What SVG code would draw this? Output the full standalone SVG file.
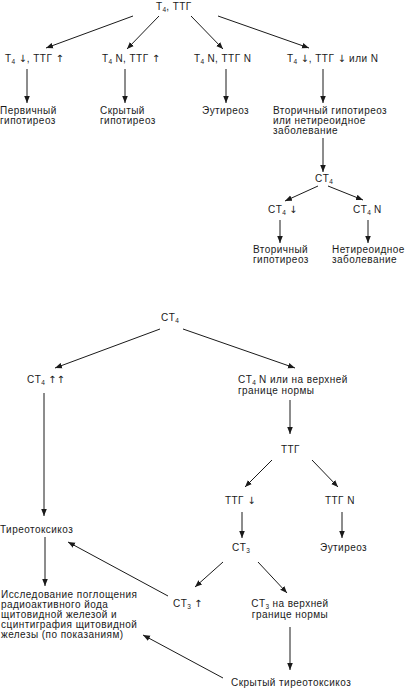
<svg xmlns="http://www.w3.org/2000/svg" width="406" height="688" viewBox="0 0 406 688">
<defs>
<marker id="ah" viewBox="0 0 10 10" refX="10" refY="5" markerWidth="7" markerHeight="7" markerUnits="userSpaceOnUse" orient="auto">
<path d="M0,1 L10,5 L0,9 Z" fill="#1a1a1a"/>
</marker>
<style>
text{font-family:"Liberation Sans",Arial,sans-serif;font-size:10px;letter-spacing:0.45px;fill:#1a1a1a}
.s{font-size:6.5px;letter-spacing:0}
.ar{font-family:"DejaVu Sans",sans-serif;font-size:10px;letter-spacing:0}
.m{text-anchor:middle}
#connectors line{stroke:#1a1a1a;stroke-width:1;marker-end:url(#ah)}
</style>
</defs>
<rect width="406" height="688" fill="#fff"/>
<g id="connectors">
<line x1="133" y1="16" x2="46" y2="48"/>
<line x1="159" y1="16" x2="127" y2="49"/>
<line x1="191" y1="16" x2="223" y2="49"/>
<line x1="218" y1="16" x2="309" y2="48"/>
<line x1="27" y1="69" x2="27" y2="103"/>
<line x1="125" y1="69" x2="125" y2="103"/>
<line x1="226" y1="69" x2="226" y2="103"/>
<line x1="323" y1="69" x2="323" y2="103"/>
<line x1="323" y1="138" x2="323" y2="172"/>
<line x1="318" y1="186" x2="285" y2="201"/>
<line x1="328" y1="186" x2="363" y2="200"/>
<line x1="280" y1="220" x2="280" y2="243"/>
<line x1="368" y1="220" x2="368" y2="243"/>
<line x1="160" y1="329" x2="55" y2="368"/>
<line x1="183" y1="329" x2="295" y2="368"/>
<line x1="44" y1="393" x2="44" y2="516"/>
<line x1="290" y1="400" x2="290" y2="434"/>
<line x1="272" y1="460" x2="245" y2="487"/>
<line x1="312" y1="460" x2="338" y2="487"/>
<line x1="242" y1="512" x2="242" y2="538"/>
<line x1="342" y1="512" x2="342" y2="538"/>
<line x1="45" y1="537" x2="45" y2="586"/>
<line x1="223" y1="562" x2="195" y2="587"/>
<line x1="258" y1="562" x2="287" y2="593"/>
<line x1="168" y1="596" x2="68" y2="542"/>
<line x1="290" y1="627" x2="290" y2="670"/>
<line x1="223" y1="678" x2="143" y2="635"/>
</g>
<g id="n-root"><text x="156" y="10">T<tspan class="s" dy="1.5">4</tspan><tspan dy="-1.5">, ТТГ</tspan></text></g>
<g id="n-a1"><text x="5" y="62">T<tspan class="s" dy="1.5">4</tspan><tspan dy="-1.5"> </tspan><tspan class="ar">↓</tspan>, ТТГ <tspan class="ar">↑</tspan></text></g>
<g id="n-a2"><text x="102" y="62">T<tspan class="s" dy="1.5">4</tspan><tspan dy="-1.5"> N, ТТГ </tspan><tspan class="ar">↑</tspan></text></g>
<g id="n-a3"><text x="194" y="62">T<tspan class="s" dy="1.5">4</tspan><tspan dy="-1.5"> N, ТТГ N</tspan></text></g>
<g id="n-a4"><text x="287" y="62">T<tspan class="s" dy="1.5">4</tspan><tspan dy="-1.5"> </tspan><tspan class="ar">↓</tspan>, ТТГ <tspan class="ar">↓</tspan> или N</text></g>
<g id="n-b1"><text x="0" y="114">Первичный</text><text x="0" y="124">гипотиреоз</text></g>
<g id="n-b2"><text x="100" y="114">Скрытый</text><text x="100" y="124">гипотиреоз</text></g>
<g id="n-b3"><text x="202" y="114">Эутиреоз</text></g>
<g id="n-b4"><text x="273" y="114">Вторичный гипотиреоз</text><text x="273" y="124">или нетиреоидное</text><text x="273" y="134">заболевание</text></g>
<g id="n-c"><text x="315" y="182">CT<tspan class="s" dy="1.5">4</tspan></text></g>
<g id="n-c1"><text x="268" y="213">CT<tspan class="s" dy="1.5">4</tspan><tspan dy="-1.5"> </tspan><tspan class="ar">↓</tspan></text></g>
<g id="n-c2"><text x="353" y="213">CT<tspan class="s" dy="1.5">4</tspan><tspan dy="-1.5"> N</tspan></text></g>
<g id="n-d1"><text x="253" y="253">Вторичный</text><text x="253" y="263">гипотиреоз</text></g>
<g id="n-d2"><text x="332" y="253">Нетиреоидное</text><text x="332" y="263">заболевание</text></g>
<g id="n-e"><text x="161" y="321">CT<tspan class="s" dy="1.5">4</tspan></text></g>
<g id="n-e1"><text x="27" y="383">CT<tspan class="s" dy="1.5">4</tspan><tspan dy="-1.5"> </tspan><tspan class="ar">↑↑</tspan></text></g>
<g id="n-e2"><text x="238" y="383">CT<tspan class="s" dy="1.5">4</tspan><tspan dy="-1.5"> N или на верхней</tspan></text><text x="238" y="394">границе нормы</text></g>
<g id="n-f"><text x="281" y="453">ТТГ</text></g>
<g id="n-f1"><text x="225" y="504">ТТГ <tspan class="ar">↓</tspan></text></g>
<g id="n-f2"><text x="325" y="504">ТТГ N</text></g>
<g id="n-tt"><text x="0" y="533">Тиреотоксикоз</text></g>
<g id="n-g"><text x="232" y="551">CT<tspan class="s" dy="1.5">3</tspan></text></g>
<g id="n-eu"><text x="320" y="551">Эутиреоз</text></g>
<g id="n-g1"><text x="173" y="607">CT<tspan class="s" dy="1.5">3</tspan><tspan dy="-1.5"> </tspan><tspan class="ar">↑</tspan></text></g>
<g id="n-g2"><text class="m" x="290" y="607">CT<tspan class="s" dy="1.5">3</tspan><tspan dy="-1.5"> на верхней</tspan></text><text class="m" x="290" y="618">границе нормы</text></g>
<g id="n-study"><text x="1" y="598">Исследование поглощения</text><text x="1" y="608">радиоактивного  йода</text><text x="1" y="618">щитовидной железой и</text><text x="1" y="628">сцинтиграфия щитовидной</text><text x="1" y="638">железы (по показаниям)</text></g>
<g id="n-hidden"><text x="231" y="686">Скрытый тиреотоксикоз</text></g>
</svg>
